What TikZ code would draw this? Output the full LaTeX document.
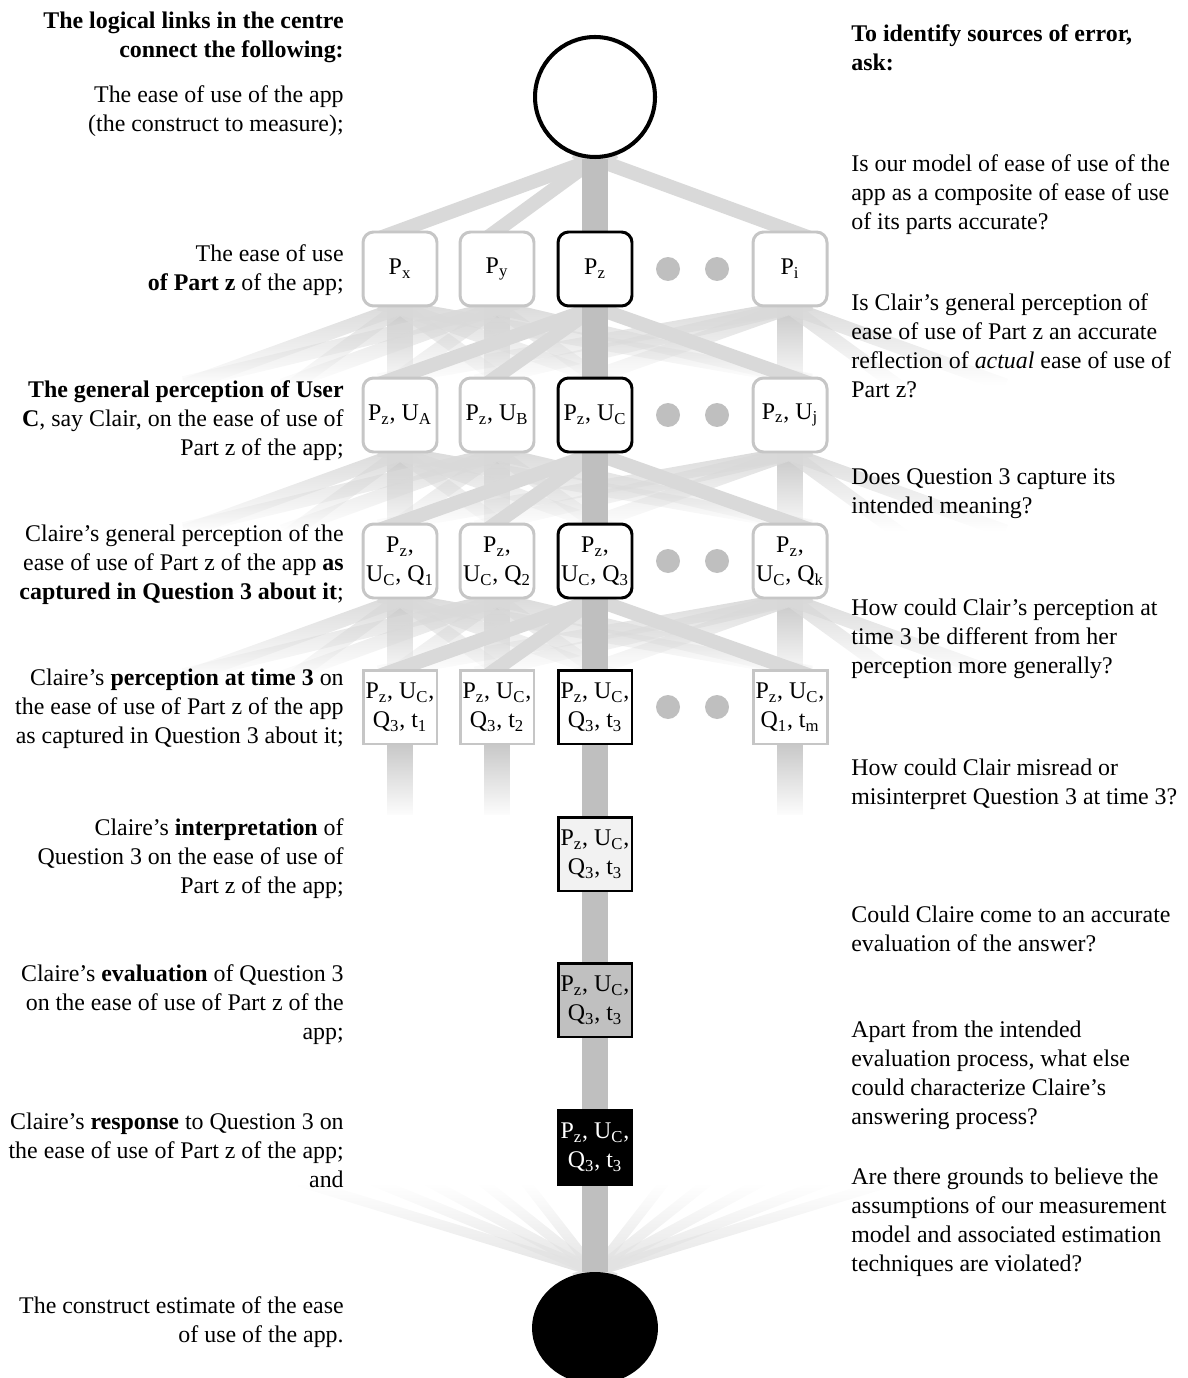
\documentclass[tikz,border=0pt]{standalone}
\usepackage{fontspec}
\setmainfont{Liberation Serif}
\usetikzlibrary{shapes.geometric,fadings,backgrounds}

\definecolor{rimgray}{HTML}{C6C6C6}
\definecolor{spinegray}{HTML}{BFBFBF}
\definecolor{linkgray}{HTML}{D9D9D9}
\definecolor{fangray}{HTML}{E2E2E2}
\definecolor{palefill}{HTML}{F2F2F2}
\definecolor{midfill}{HTML}{C0C0C0}

\tikzfading[name=fade down, top color=transparent!0, bottom color=transparent!100]
\tikzfading[name=fade up, top color=transparent!100, bottom color=transparent!0]

\newcommand{\sbs}[1]{\textsubscript{#1}}

\begin{document}
\begin{tikzpicture}[x=0.02cm, y=-0.02cm,
  every node/.style={font=\fontsize{13.6}{16.5}\selectfont},
  partbox/.style={rectangle, draw=rimgray, fill=white, line width=1.7pt,
                  rounded corners=6pt, minimum size=1.48cm, inner sep=0pt, align=center},
  focusbox/.style={partbox, draw=black},
  squarebox/.style={partbox, sharp corners},
  focussquare/.style={squarebox, draw=black},
  gapdot/.style={circle, fill=spinegray, minimum size=0.48cm, inner sep=0pt},
  lefttext/.style={anchor=east, align=right, inner sep=0pt},
  righttext/.style={anchor=west, align=left, inner sep=0pt},
  spine/.style={draw=spinegray, line width=0.52cm},
  link/.style={draw=linkgray, line width=0.28cm, shorten <=-0.44cm, shorten >=-0.44cm},
  fadebar/.style={spine, shorten <=-0.2cm, shorten >=-0.2cm, path fading=fade down},
  fadelink/.style={link, path fading=fade down},
  fanlink/.style={link, draw=fangray, line width=0.2cm, path fading=fade up}]
  \useasboundingbox (0,0) rectangle (1187,1378);

  % construct and its estimate
  \node[circle, draw, line width=2.3pt, fill=white, minimum size=2.4cm] (construct) at (595,97) {};
  \node[ellipse, fill=black, minimum width=2.52cm, minimum height=2.24cm, inner sep=0pt] (estimate) at (595,1328) {};

  % parts
  \node[partbox] (px) at (400,269) {P\sbs{x}};
  \node[partbox] (py) at (497,269) {P\sbs{y}};
  \node[focusbox] (pz) at (595,269) {P\sbs{z}};
  \node[partbox] (pi) at (790,269) {P\sbs{i}};
  % users
  \node[partbox] (ua) at (400,415) {P\sbs{z}, U\sbs{A}};
  \node[partbox] (ub) at (497,415) {P\sbs{z}, U\sbs{B}};
  \node[focusbox] (uc) at (595,415) {P\sbs{z}, U\sbs{C}};
  \node[partbox] (uj) at (790,415) {P\sbs{z}, U\sbs{j}};
  % questions
  \node[partbox] (q1) at (400,561) {P\sbs{z},\\U\sbs{C}, Q\sbs{1}};
  \node[partbox] (q2) at (497,561) {P\sbs{z},\\U\sbs{C}, Q\sbs{2}};
  \node[focusbox] (q3) at (595,561) {P\sbs{z},\\U\sbs{C}, Q\sbs{3}};
  \node[partbox] (qk) at (790,561) {P\sbs{z},\\U\sbs{C}, Q\sbs{k}};
  % times
  \node[squarebox] (t1) at (400,707) {P\sbs{z}, U\sbs{C},\\Q\sbs{3}, t\sbs{1}};
  \node[squarebox] (t2) at (497,707) {P\sbs{z}, U\sbs{C},\\Q\sbs{3}, t\sbs{2}};
  \node[focussquare] (t3) at (595,707) {P\sbs{z}, U\sbs{C},\\Q\sbs{3}, t\sbs{3}};
  \node[squarebox] (tm) at (790,707) {P\sbs{z}, U\sbs{C},\\Q\sbs{1}, t\sbs{m}};
  % answering process
  \node[focussquare, fill=palefill] (interp) at (595,854) {P\sbs{z}, U\sbs{C},\\Q\sbs{3}, t\sbs{3}};
  \node[focussquare, fill=midfill] (eval) at (595,1000) {P\sbs{z}, U\sbs{C},\\Q\sbs{3}, t\sbs{3}};
  \node[focussquare, fill=black, text=white] (resp) at (595,1147) {P\sbs{z}, U\sbs{C},\\Q\sbs{3}, t\sbs{3}};

  \foreach \y/\r in {269/1, 415/2, 561/3, 707/4} {
    \node[gapdot] (gap\r a) at (668,\y) {};
    \node[gapdot] (gap\r b) at (717,\y) {};
  }

  % loose ends
  \foreach \y/\r in {378/2, 524/3, 670/4} {
    \coordinate (farw\r) at (205,\y);
    \coordinate (nearw\r) at (303,\y);
    \coordinate (neare\r) at (887,\y);
    \coordinate (fare\r) at (985,\y);
  }
  \coordinate (t1end) at (400,805);
  \coordinate (t2end) at (497,805);
  \coordinate (tmend) at (790,805);
  \foreach \x [count=\k] in {320,390,440,490,530,660,700,750,810,870}
    \coordinate (fan\k) at (\x,1188);

  % left column
  \node[lefttext] (headl) at (344,37.5) {\textbf{The logical links in the centre}\\\textbf{connect the following:}};
  \node[lefttext] (txtconstruct) at (344,111.5) {The ease of use of the app\\(the construct to measure);};
  \node[lefttext] (txtpart) at (344,270.5) {The ease of use\\\textbf{of Part z} of the app;};
  \node[lefttext] (txtuser) at (344,421) {\textbf{The general perception of User}\\\textbf{C}, say Clair, on the ease of use of\\Part z of the app;};
  \node[lefttext] (txtquestion) at (344,565) {Claire’s general perception of the\\ease of use of Part z of the app \textbf{as}\\\textbf{captured in Question 3 about it};};
  \node[lefttext] (txttime) at (344,709) {Claire’s \textbf{perception at time 3} on\\the ease of use of Part z of the app\\as captured in Question 3 about it;};
  \node[lefttext] (txtinterp) at (344,859) {Claire’s \textbf{interpretation} of\\Question 3 on the ease of use of\\Part z of the app;};
  \node[lefttext] (txteval) at (344,1005) {Claire’s \textbf{evaluation} of Question 3\\on the ease of use of Part z of the\\app;};
  \node[lefttext] (txtresp) at (344,1150) {Claire’s \textbf{response} to Question 3 on\\the ease of use of Part z of the app;\\and};
  \node[lefttext] (txtestimate) at (344,1322) {The construct estimate of the ease\\of use of the app.};

  % right column
  \node[righttext] (headr) at (851,48) {\textbf{To identify sources of error,}\\\textbf{ask:}};
  \node[righttext] (askmodel) at (851,195) {Is our model of ease of use of the\\app as a composite of ease of use\\of its parts accurate?};
  \node[righttext] (askgeneral) at (851,346) {Is Clair’s general perception of\\ease of use of Part z an accurate\\reflection of \textit{actual} ease of use of\\Part z?};
  \node[righttext] (askquestion) at (851,494) {Does Question 3 capture its\\intended meaning?};
  \node[righttext] (asktime) at (851,638.5) {How could Clair’s perception at\\time 3 be different from her\\perception more generally?};
  \node[righttext] (askinterp) at (851,784) {How could Clair misread or\\misinterpret Question 3 at time 3?};
  \node[righttext] (askeval) at (851,929) {Could Claire come to an accurate\\evaluation of the answer?};
  \node[righttext] (askresp) at (851,1075) {Apart from the intended\\evaluation process, what else\\could characterize Claire’s\\answering process?};
  \node[righttext] (askestimate) at (851,1222) {Are there grounds to believe the\\assumptions of our measurement\\model and associated estimation\\techniques are violated?};

  \begin{scope}[on background layer]
    % grey boxes: links fade out
    \foreach \pa/\pb/\pc/\pd/\qa/\qb/\qc/\qd/\r in
        {px/py/pz/pi/ua/ub/uc/uj/2, ua/ub/uc/uj/q1/q2/q3/qk/3, q1/q2/q3/qk/t1/t2/t3/tm/4} {
      \draw[fadebar] (\pa.south) -- (\qa.north);
      \draw[fadebar] (\pb.south) -- (\qb.north);
      \draw[fadebar] (\pd.south) -- (\qd.north);
      \foreach \t in {\qb,\qc,\qd} \draw[fadelink] (\pa.south) -- (\t.north);
      \foreach \t in {\qa,\qc,\qd} \draw[fadelink] (\pb.south) -- (\t.north);
      \foreach \t in {\qa,\qb,\qc} \draw[fadelink] (\pd.south) -- (\t.north);
      \foreach \t in {farw\r,nearw\r} {
        \draw[fadelink] (\pa.south) -- (\t);
        \draw[fadelink] (\pb.south) -- (\t);
      }
      \foreach \t in {neare\r,fare\r} \draw[fadelink] (\pd.south) -- (\t);
      % box in focus: solid links
      \foreach \t in {\qa,\qb,\qd} \draw[link] (\pc.south) -- (\t.north);
    }
    \draw[fadebar] (t1.south) -- (t1end);
    \draw[fadebar] (t2.south) -- (t2end);
    \draw[fadebar] (tm.south) -- (tmend);
    \foreach \t in {px,py,pi} \draw[link] (construct.south) -- (\t.north);
    \foreach \k in {1,...,10} \draw[fanlink] (estimate.north) -- (fan\k);
    \draw[spine] (construct) -- (estimate);
  \end{scope}
\end{tikzpicture}
\end{document}
